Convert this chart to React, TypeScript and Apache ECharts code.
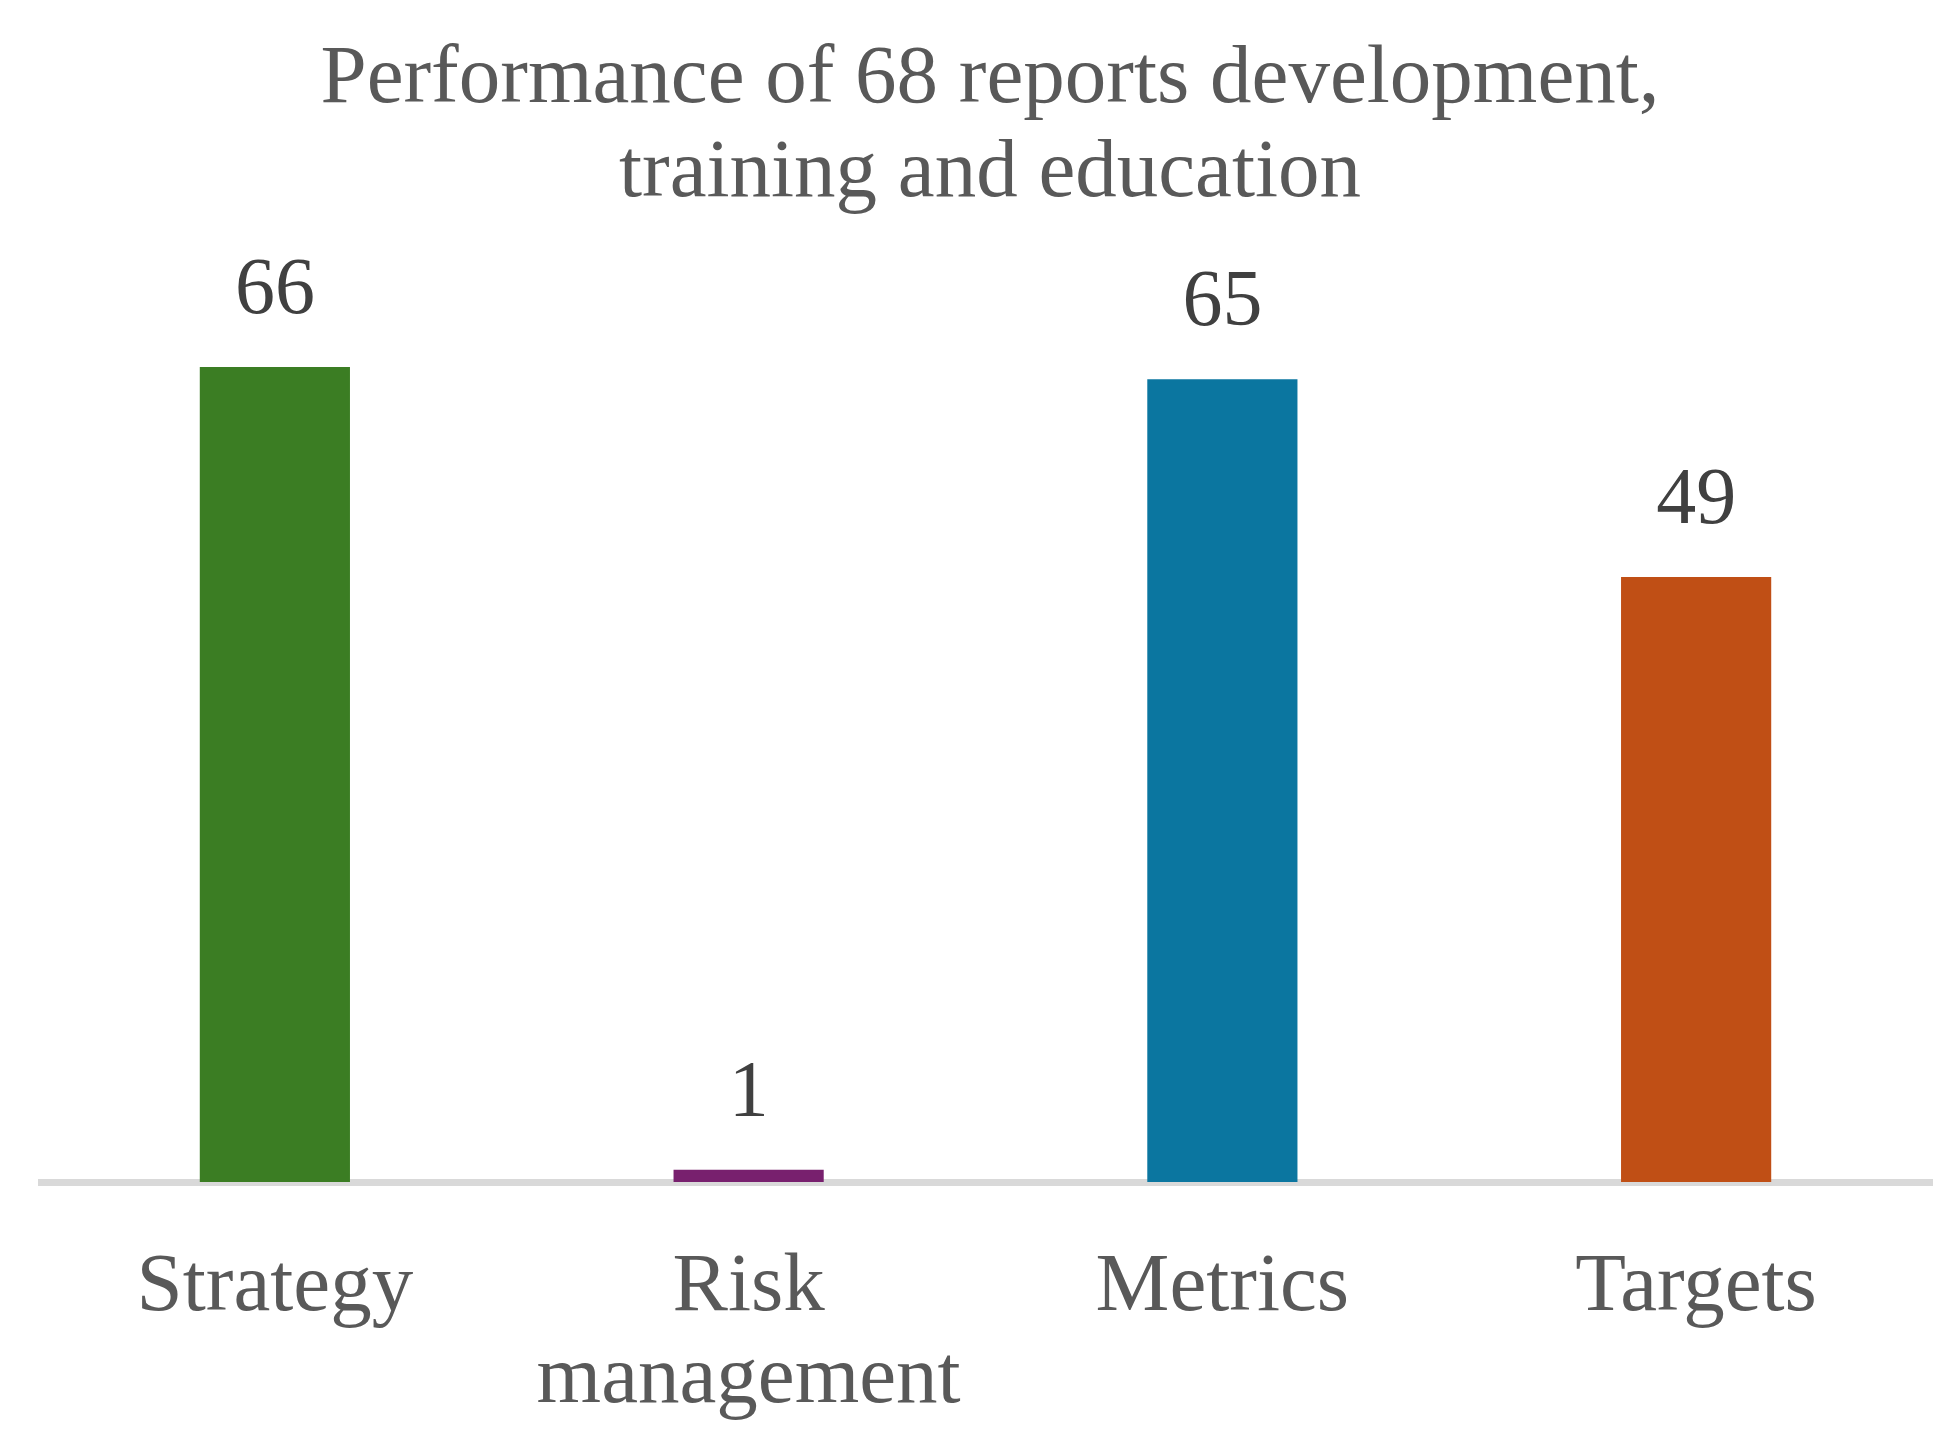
import React, { useEffect, useRef } from "react";
import * as echarts from "echarts";

const titleLines = ["Performance of 68 reports development,", "training and education"];
const categories = ["Strategy", "Risk management", "Metrics", "Targets"];
const values = [66, 1, 65, 49];
const barColors = ["#3B7D23", "#78206E", "#0B76A0", "#C04F15"];

const FONT = '"Liberation Serif", "Times New Roman", serif';

export default function App() {
  const ref = useRef<HTMLDivElement>(null);

  useEffect(() => {
    if (!ref.current) return;
    const chart = echarts.init(ref.current, undefined, { renderer: "svg" });
    chart.setOption({
      animation: false,
      backgroundColor: "#ffffff",
      title: {
        text: titleLines.join("\n"),
        left: 985,
        textAlign: "center",
        top: 22,
        textStyle: {
          fontFamily: FONT,
          fontSize: 83,
          fontWeight: "normal",
          color: "#595959",
          lineHeight: 94,
        },
      },
      grid: {
        left: 38,
        right: 15,
        top: 317.6,
        bottom: 259,
        containLabel: false,
      },
      xAxis: {
        type: "category",
        data: categories,
        offset: 3.5,
        axisLine: { show: true, lineStyle: { color: "#D9D9D9", width: 7, cap: "butt" } },
        axisTick: { show: false },
        splitLine: { show: false },
        axisLabel: {
          interval: 0,
          margin: 50,
          fontFamily: FONT,
          fontSize: 83,
          lineHeight: 92,
          color: "#595959",
          formatter: (v: string) => (v.length > 10 ? v.split(" ").join("\n") : v),
        },
      },
      yAxis: {
        type: "value",
        min: 0,
        max: 70,
        show: false,
        splitLine: { show: false },
      },
      series: [
        {
          type: "bar",
          data: values.map((v, i) => ({ value: v, itemStyle: { color: barColors[i] } })),
          barWidth: "31.7%",
          label: {
            show: true,
            position: "top",
            distance: 41,
            fontFamily: FONT,
            fontSize: 80,
            color: "#404040",
          },
        },
      ],
    });
    return () => chart.dispose();
  }, []);

  return (
    <div
      ref={ref}
      style={{ position: "absolute", left: 0, top: 0, width: 1948, height: 1441 }}
    />
  );
}
